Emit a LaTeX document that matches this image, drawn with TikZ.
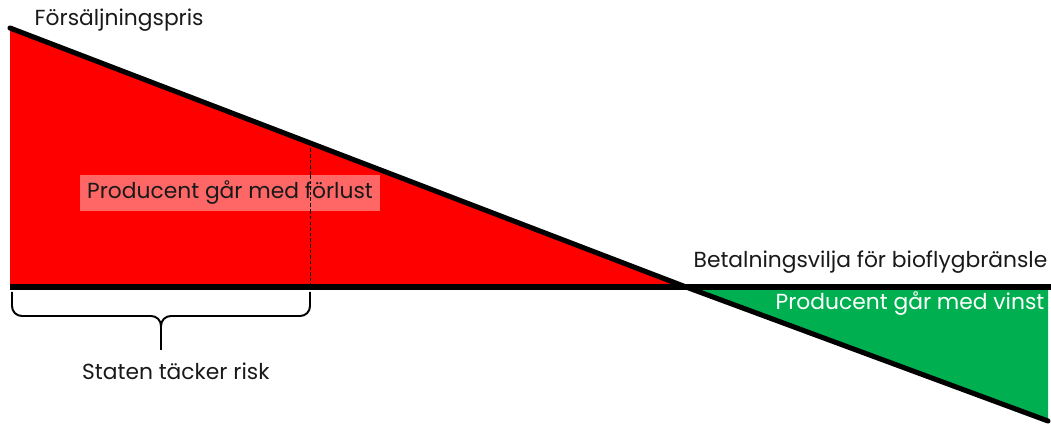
\documentclass[tikz,border=0pt]{standalone}
\usepackage{fontspec}
\setmainfont{Poppins}
\usetikzlibrary{positioning, calc}
\definecolor{cLoss}{RGB}{255,0,0}
\definecolor{cLossBox}{RGB}{255,102,102}
\definecolor{cGain}{RGB}{0,176,80}
\tikzset{
	priceline/.style={line width=3.6pt, line cap=round},
	baseline/.style ={line width=3.6pt},
	riskline/.style ={thin, dash pattern=on 2.5pt off 1.5pt},
	bracepath/.style={line width=1.4pt, rounded corners=7pt},
	lbl/.style      ={font=\fontsize{15.5}{18}\selectfont, inner sep=1pt, text=black!90},
	lossbox/.style  ={lbl, fill=cLossBox, minimum width=7.5cm, minimum height=0.9cm},
}

\begin{document}
\begin{tikzpicture}[x=0.025cm, y=-0.025cm]
	\useasboundingbox (0,0) rectangle (1051,425);
	\coordinate (top) at (10,28);
	\coordinate (bl) at (10,287);
	\coordinate (br) at (1051,287);
	\coordinate (cross) at (686,287);
	\coordinate (end) at (1048,421);
	\coordinate (gc) at (1048,287);
	\coordinate (risk) at (310,287);
	% areas
	\fill[cLoss] (top) -- (cross) -- (bl) -- cycle;
	\fill[cGain] (cross) -- (gc) -- (end) -- cycle;
	\draw[riskline] (risk) -- (310,143);
	\draw[baseline] (bl) -- (br);
	\draw[priceline] (top) -- (cross) -- (end);
	% brace
	\coordinate (tip) at (161,350);
	\draw[bracepath] (12,292) -- (12,316) -- (161,316) -- (tip);
	\draw[bracepath] (310,292) -- (310,316) -- (161,316) -- (tip);
	% labels
	\node[lbl, anchor=west] (sell) at (33,20) {Försäljningspris};
	\node[lbl, anchor=east] (pay) at (1049,262) {Betalningsvilja för bioflygbränsle};
	\node[lbl, anchor=east, text=white] (gain) at (1046,304) {Producent går med vinst};
	\node[lossbox] (loss) at (230,193) {Producent går med förlust};
	\draw[riskline] (310,175) -- (310,211);
	\node[lbl, below=0.28cm of tip, xshift=0.37cm] (state) {Staten täcker risk};
\end{tikzpicture}
\end{document}
